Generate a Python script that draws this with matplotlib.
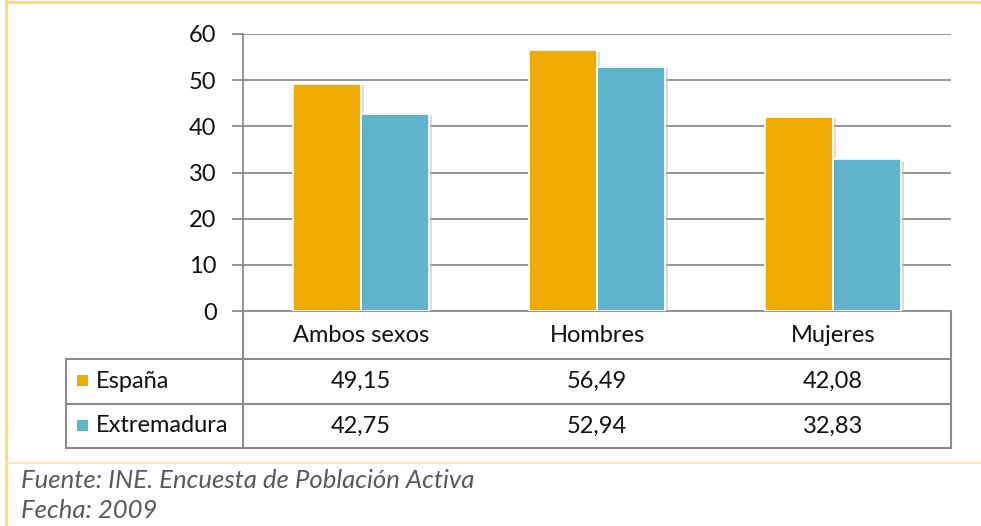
import matplotlib
matplotlib.use("Agg")
import matplotlib.pyplot as plt
import matplotlib.transforms as mtransforms
from matplotlib.lines import Line2D
from matplotlib.patches import Rectangle
import matplotlib.patheffects as pe
import numpy as np

categories = ["Ambos sexos", "Hombres", "Mujeres"]
series_names = ["España", "Extremadura"]
espana = [49.15, 56.49, 42.08]
extremadura = [42.75, 52.94, 32.83]
yticks = [0, 10, 20, 30, 40, 50, 60]

colors = ["#F0AB00", "#5FB3CB"]
grid_col = "#8C8C8C"
frame_col = "#FFD666"
txt_col = "#111111"
fs = 17

plt.rcParams["font.family"] = ["Lato", "DejaVu Sans"]

W, H = 981, 526
fig = plt.figure(figsize=(W / 100, H / 100), dpi=100)


def fx(px):
    return px / W


def fy(py):
    return 1 - py / H


# main plot area
ax = fig.add_axes([fx(243), fy(311), fx(951 - 243), fy(34) - fy(311)])
x = np.arange(len(categories))
bw = 0.288
shadow = [pe.SimplePatchShadow(offset=(2, -1), shadow_rgbFace="#BBBBBB", alpha=0.5), pe.Normal()]
for k, (vals, name) in enumerate(zip([espana, extremadura], series_names)):
    off = (k - 0.5) * bw
    bars = ax.bar(x + off, vals, bw, color=colors[k], edgecolor="white", linewidth=1.2,
                  zorder=3, label=name)
    for b in bars:
        b.set_path_effects(shadow)

ax.set_xlim(-0.5, len(categories) - 0.5)
ax.set_ylim(0, 60)
ax.set_yticks(yticks)
ax.set_xticks([])
ax.yaxis.grid(True, color=grid_col, linewidth=1.3, zorder=0)
ax.set_axisbelow(True)
for s in ["top", "right"]:
    ax.spines[s].set_visible(False)
for s in ["left", "bottom"]:
    ax.spines[s].set_color(grid_col)
    ax.spines[s].set_linewidth(1.3)
ax.tick_params(axis="y", length=8, width=1.3, color=grid_col, labelsize=fs, pad=11,
               labelcolor=txt_col)

# data table under the axis
tr = mtransforms.blended_transform_factory(ax.transData, fig.transFigure)
lw = 1.5


def hline(y, x0, x1):
    fig.add_artist(Line2D([fx(x0), fx(x1)], [fy(y), fy(y)], color=grid_col, lw=lw))


def vline(xp, y0, y1):
    fig.add_artist(Line2D([fx(xp), fx(xp)], [fy(y0), fy(y1)], color=grid_col, lw=lw))


hline(359, 66, 951)
hline(404, 66, 951)
hline(448, 66, 951)
vline(66, 359, 448)
vline(243, 311, 448)
vline(951, 311, 448)

for i, c in enumerate(categories):
    fig.text(i, fy(335), c, transform=tr, ha="center", va="center", fontsize=fs, color=txt_col)

row_y = [381, 426]
for k, vals in enumerate([espana, extremadura]):
    for i, v in enumerate(vals):
        fig.text(i, fy(row_y[k]), f"{v:.2f}".replace(".", ","), transform=tr,
                 ha="center", va="center", fontsize=fs, color=txt_col)
    fig.add_artist(Rectangle((fx(77), fy(row_y[k] + 5)), fx(11), fy(row_y[k] - 6) - fy(row_y[k] + 5),
                             facecolor=colors[k], edgecolor="none"))
    fig.text(fx(96), fy(row_y[k]), series_names[k], ha="left", va="center", fontsize=fs,
             color=txt_col)

# frame lines
fig.add_artist(Line2D([fx(6), 1], [fy(2), fy(2)], color=frame_col, lw=2))
fig.add_artist(Line2D([fx(6), fx(6)], [0, fy(1)], color=frame_col, lw=2))
fig.add_artist(Line2D([fx(6), 1], [fy(463), fy(463)], color="#FBE3A6", lw=1.2))

# source notes
fig.text(fx(21), fy(480), "Fuente: INE. Encuesta de Población Activa", ha="left", va="center",
         fontsize=18.5, style="italic", color="#5A5A5A")
fig.text(fx(21), fy(511), "Fecha: 2009", ha="left", va="center",
         fontsize=18.5, style="italic", color="#5A5A5A")

fig.savefig("out.png", dpi=100, facecolor="white")
